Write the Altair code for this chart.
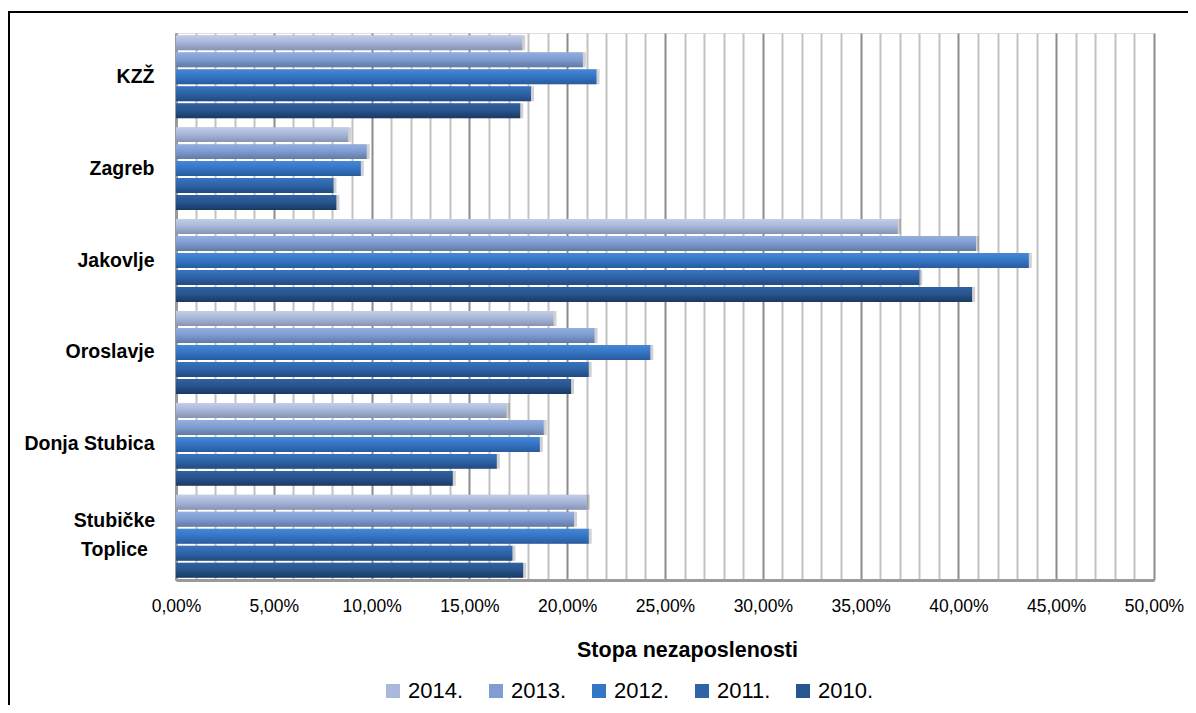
import altair as alt
import pandas as pd

categories = ["KZŽ", "Zagreb", "Jakovlje", "Oroslavje", "Donja Stubica", "Stubičke Toplice"]
years = ["2014.", "2013.", "2012.", "2011.", "2010."]
v2014 = [17.7, 8.8, 36.9, 19.3, 16.9, 21.0]
v2013 = [20.8, 9.75, 40.9, 21.4, 18.8, 20.35]
v2012 = [21.5, 9.45, 43.6, 24.25, 18.6, 21.1]
v2011 = [18.15, 8.05, 38.0, 21.1, 16.4, 17.2]
v2010 = [17.6, 8.2, 40.7, 20.2, 14.15, 17.75]
series = [v2014, v2013, v2012, v2011, v2010]

rows = []
for yr, vals in zip(years, series):
    for c, v in zip(categories, vals):
        rows.append({"kategorija": c, "godina": yr, "stopa": v})
df = pd.DataFrame(rows)

grad_colors = {
    "2014.": ("#c2cde8", "#a9b7d9", "#8593b5"),
    "2013.": ("#94afe0", "#809dd2", "#627aa4"),
    "2012.": ("#4687d6", "#3676c6", "#295b9d"),
    "2011.": ("#3a74bd", "#2f64a9", "#214a80"),
    "2010.": ("#30619f", "#28558f", "#1a3963"),
}
legend_colors = ["#aab8d9", "#819dd1", "#3676c6", "#2f64a9", "#28558f"]


def gradient(c):
    return {
        "gradient": "linear", "x1": 0, "y1": 0, "x2": 0, "y2": 1,
        "stops": [
            {"offset": 0, "color": c[0]},
            {"offset": 0.45, "color": c[1]},
            {"offset": 1, "color": c[2]},
        ],
    }


two_line = "datum.label == 'Stubičke Toplice'"

x_enc = alt.X(
    "stopa:Q",
    scale=alt.Scale(domain=[0, 50], nice=False, zero=True),
    axis=alt.Axis(
        values=list(range(0, 51)),
        grid=True,
        gridColor={"condition": {"test": "datum.value % 5 == 0", "value": "#8c8c8c"}, "value": "#c2c2c2"},
        gridWidth=2,
        ticks=False,
        domainColor="#9a9a9a",
        domainWidth=3,
        labelExpr="datum.value % 5 == 0 ? replace(format(datum.value, '.2f'), '.', ',') + '%' : ''",
        labelFontSize=17.5,
        labelColor="black",
        labelPadding=17,
        labelOverlap=False,
        labelFlush=False,
        title="Stopa nezaposlenosti",
        titleFontSize=21.5,
        titleFontWeight="bold",
        titleColor="black",
        titleX=511,
        titleY=70,
        titleBaseline="middle",
        titleAlign="center",
    ),
)
y_enc = alt.Y(
    "kategorija:N",
    scale=alt.Scale(domain=categories, paddingInner=0.098, paddingOuter=0.024),
    axis=alt.Axis(
        title=None,
        ticks=False,
        labelFontSize=19.5,
        labelFontWeight="bold",
        labelColor="black",
        labelPadding={"condition": {"test": two_line, "value": 62}, "value": 22},
        labelAlign={"condition": {"test": two_line, "value": "center"}, "value": "right"},
        domainColor="#9a9a9a",
        domainWidth=3,
        labelExpr="datum.label == 'Stubičke Toplice' ? ['Stubičke', 'Toplice'] : datum.label",
        labelLineHeight=29,
        labelOffset={"condition": {"test": two_line, "value": -15}, "value": 0},
    ),
)
yoff_enc = alt.YOffset("godina:N", scale=alt.Scale(domain=years, paddingInner=0.12, paddingOuter=0))

frame = alt.Chart(pd.DataFrame({"a": [0]})).mark_rect(
    fillOpacity=0, stroke="black", strokeWidth=2
).encode(x=alt.value(-167), x2=alt.value(1100), y=alt.value(-21), y2=alt.value(800))

shadow = alt.Chart(df).mark_bar(color="#000000", opacity=0.18, xOffset=3).encode(
    x=x_enc, y=y_enc, yOffset=yoff_enc
)

bar_layers = []
for yr in years:
    bar_layers.append(
        alt.Chart(df)
        .transform_filter(alt.datum.godina == yr)
        .mark_bar(fill=gradient(grad_colors[yr]))
        .encode(x=x_enc, y=y_enc, yOffset=yoff_enc)
    )

legend_layer = alt.Chart(df).mark_square(opacity=0).encode(
    x=x_enc,
    y=y_enc,
    yOffset=yoff_enc,
    color=alt.Color(
        "godina:N",
        scale=alt.Scale(domain=years, range=legend_colors),
        legend=alt.Legend(
            title=None,
            orient="none",
            legendX=206,
            legendY=647,
            direction="horizontal",
            columns=5,
            columnPadding=21,
            labelFontSize=22,
            labelColor="black",
            symbolType="square",
            symbolSize=196,
            symbolOpacity=1,
            symbolStrokeWidth=0,
            labelOffset=4,
        ),
    ),
)

chart = (
    alt.layer(frame, shadow, *bar_layers, legend_layer)
    .properties(
        width=978,
        height=547,
        autosize=alt.AutoSizeParams(type="none"),
        padding={"left": 168, "top": 25, "right": 34, "bottom": 125},
    )
    .configure_view(stroke=None)
    .configure(font="Liberation Sans")
)

chart.save("out.html", embed_options={"renderer": "svg", "actions": False})
